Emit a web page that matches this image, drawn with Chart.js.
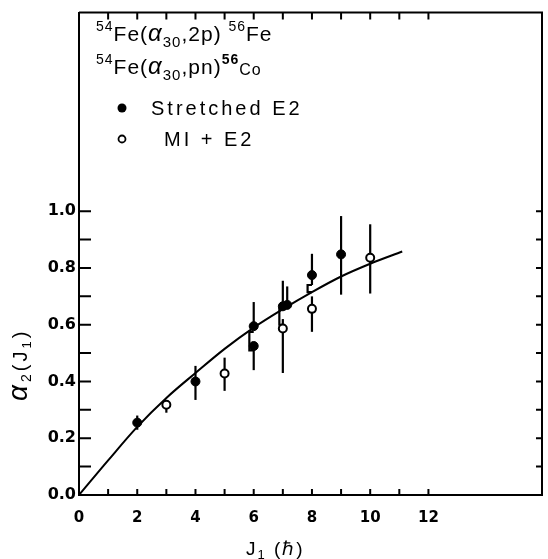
<!DOCTYPE html>
<html>
<head>
<meta charset="utf-8">
<script src="https://cdn.jsdelivr.net/npm/chart.js@4.4.1/dist/chart.umd.min.js"></script>
<style>
  html, body { margin: 0; padding: 0; background: #fff; }
</style>
</head>
<body>
<canvas id="c" width="548" height="559"></canvas>
<script>
// --- data ---
// fitted curve alpha2(J1)
const curveJ = [0, 1, 2, 3, 4, 5, 6, 7, 8, 9, 10, 11.1];
const curveA = [0, 0.122, 0.24, 0.342, 0.43, 0.515, 0.59, 0.655, 0.715, 0.77, 0.815, 0.858];

// stretched E2 (filled)
const stretchedJ  = [2, 4, 6, 6, 7, 7.15, 8, 9];
const stretchedA  = [0.255, 0.40, 0.595, 0.525, 0.665, 0.67, 0.775, 0.848];
const stretchedLo = [0.23, 0.335, 0.595, 0.44, 0.665, 0.67, 0.74, 0.706];
const stretchedHi = [0.28, 0.455, 0.68, 0.525, 0.755, 0.735, 0.85, 0.983];

// M1 + E2 (open)
const mixedJ  = [3, 5, 7, 8, 10];
const mixedA  = [0.318, 0.428, 0.587, 0.656, 0.836];
const mixedLo = [0.29, 0.367, 0.43, 0.575, 0.71];
const mixedHi = [0.335, 0.484, 0.62, 0.70, 0.954];

// little brackets joining the pairs at J = 6, 7, 8
const bracketJ  = [5.85, 6.88, 7.85];
const bracketTo = [6, 7, 8];
const bracketLo = [0.51, 0.60, 0.715];
const bracketHi = [0.575, 0.655, 0.74];

// axes
const xLabels = [0, 2, 4, 6, 8, 10, 12];
const xMinor  = [1, 2, 3, 4, 5, 6, 7, 8, 9, 10, 11, 12];
const yLabels = [0, 0.2, 0.4, 0.6, 0.8, 1.0];
const yMinor  = [0.1, 0.2, 0.3, 0.4, 0.5, 0.6, 0.7, 0.8, 0.9, 1.0];

const toPts = (xs, ys) => xs.map((v, i) => ({ x: v, y: ys[i] }));

// draws a run of text pieces: [text, size, dy, style]
function richText(ctx, x, y, parts, family, spacing) {
  ctx.letterSpacing = spacing + 'px';
  parts.forEach(p => {
    ctx.font = (p[3] || '') + ' ' + p[1] + 'px ' + family;
    ctx.fillText(p[0], x, y + p[2]);
    x += ctx.measureText(p[0]).width;
  });
  ctx.letterSpacing = '0px';
}

const paperPlugin = {
  id: 'paper',
  beforeDatasetsDraw(chart) {
    const { ctx, scales: { x, y } } = chart;
    ctx.save();
    ctx.strokeStyle = '#000';
    ctx.lineWidth = 2.2;
    const bars = (js, lo, hi) => js.forEach((j, i) => {
      const px = x.getPixelForValue(j);
      ctx.beginPath();
      ctx.moveTo(px, y.getPixelForValue(lo[i]));
      ctx.lineTo(px, y.getPixelForValue(hi[i]));
      ctx.stroke();
    });
    bars(stretchedJ, stretchedLo, stretchedHi);
    bars(mixedJ, mixedLo, mixedHi);

    // brackets
    bracketJ.forEach((j, i) => {
      const px = x.getPixelForValue(j);
      const p0 = x.getPixelForValue(bracketTo[i]);
      ctx.beginPath();
      ctx.moveTo(p0, y.getPixelForValue(bracketHi[i]));
      ctx.lineTo(px, y.getPixelForValue(bracketHi[i]));
      ctx.lineTo(px, y.getPixelForValue(bracketLo[i]));
      ctx.lineTo(p0, y.getPixelForValue(bracketLo[i]));
      ctx.stroke();
    });
    ctx.restore();
  },
  afterDraw(chart) {
    const { ctx, chartArea: a, scales: { x, y } } = chart;
    ctx.save();
    ctx.strokeStyle = '#000';
    ctx.fillStyle = '#000';

    // top and right frame
    ctx.lineWidth = 2;
    ctx.beginPath();
    ctx.moveTo(a.left, a.top);
    ctx.lineTo(a.right, a.top);
    ctx.lineTo(a.right, a.bottom);
    ctx.stroke();

    // inward ticks
    xMinor.forEach(v => {
      const px = x.getPixelForValue(v);
      ctx.beginPath();
      ctx.moveTo(px, a.bottom); ctx.lineTo(px, a.bottom - 6);
      ctx.moveTo(px, a.top); ctx.lineTo(px, a.top + 7);
      ctx.stroke();
    });
    yMinor.forEach(v => {
      const py = y.getPixelForValue(v);
      ctx.beginPath();
      ctx.moveTo(a.left, py); ctx.lineTo(a.left + 12, py);
      ctx.moveTo(a.right, py); ctx.lineTo(a.right - 6, py);
      ctx.stroke();
    });

    // reaction labels
    ctx.textBaseline = 'alphabetic';
    ctx.textAlign = 'left';
    const fam = '"Liberation Sans", Arial, sans-serif';
    richText(ctx, 96, 41, [
      ['54', 14, -10], ['Fe(', 21, 0], ['\u03B1', 24, 0, 'italic'], ['30', 15, 6],
      [',2p) ', 21, 0], ['56', 14, -10], ['Fe', 21, 0]
    ], fam, 1);
    richText(ctx, 96, 74, [
      ['54', 14, -10], ['Fe(', 21, 0], ['\u03B1', 24, 0, 'italic'], ['30', 15, 6],
      [',pn)', 21, 0], ['56', 14, -10, 'bold'], ['Co', 16, 1]
    ], fam, 1);

    // legend
    ctx.beginPath();
    ctx.arc(122, 108, 4.5, 0, Math.PI * 2);
    ctx.fill();
    ctx.beginPath();
    ctx.lineWidth = 1.8;
    ctx.arc(122, 139, 3.5, 0, Math.PI * 2);
    ctx.stroke();
    richText(ctx, 151, 115, [['Stretched E2', 20, 0]], fam, 3);
    richText(ctx, 164, 146, [['MI + E2', 20, 0]], fam, 3);

    // x title
    richText(ctx, 246, 555, [['J', 19, 0], ['1', 13, 4], [' (\u210F)', 19, 0]], fam, 2);

    // y title, rotated
    ctx.translate(27, 401);
    ctx.rotate(-Math.PI / 2);
    richText(ctx, 0, 0, [['\u03B1', 28, 0, 'italic'], ['2', 14, 4], ['(J', 20, 0], ['1', 13, 4], [')', 20, 0]], fam, 3);
    ctx.restore();
  }
};

new Chart(document.getElementById('c'), {
  type: 'scatter',
  data: {
    datasets: [
      {
        label: 'fit',
        data: toPts(curveJ, curveA),
        showLine: true,
        borderColor: '#000',
        borderWidth: 2,
        pointRadius: 0,
        cubicInterpolationMode: 'monotone',
        fill: false
      },
      {
        label: 'Stretched E2',
        data: toPts(stretchedJ, stretchedA),
        pointRadius: 4.5,
        backgroundColor: '#000',
        borderColor: '#000',
        borderWidth: 1
      },
      {
        label: 'MI + E2',
        data: toPts(mixedJ, mixedA),
        pointRadius: 4,
        backgroundColor: '#fff',
        borderColor: '#000',
        borderWidth: 2
      }
    ]
  },
  options: {
    responsive: false,
    animation: false,
    devicePixelRatio: 1,
    layout: { padding: { top: 9, right: 2, left: 0, bottom: 0 } },
    plugins: {
      legend: { display: false },
      tooltip: { enabled: false }
    },
    scales: {
      x: {
        type: 'linear',
        min: 0,
        max: 15.9,
        grid: { display: false, drawTicks: false },
        border: { display: true, color: '#000', width: 2 },
        afterBuildTicks: s => { s.ticks = xLabels.map(v => ({ value: v })); },
        afterFit: s => { s.height = 64; },
        ticks: {
          autoSkip: false,
          maxRotation: 0,
          padding: 14,
          color: '#000',
          font: { family: '"DejaVu Sans", sans-serif', size: 15, weight: 'bold' },
          callback: v => String(v)
        }
      },
      y: {
        min: 0,
        max: 1.7,
        grid: { display: false, drawTicks: false },
        border: { display: true, color: '#000', width: 2 },
        afterBuildTicks: s => { s.ticks = yLabels.map(v => ({ value: v })); },
        afterFit: s => { s.width = 79; },
        ticks: {
          autoSkip: false,
          padding: 3,
          color: '#000',
          font: { family: '"DejaVu Sans", sans-serif', size: 16, weight: 'bold' },
          callback: v => v.toFixed(1)
        }
      }
    }
  },
  plugins: [paperPlugin]
});
</script>
</body>
</html>
